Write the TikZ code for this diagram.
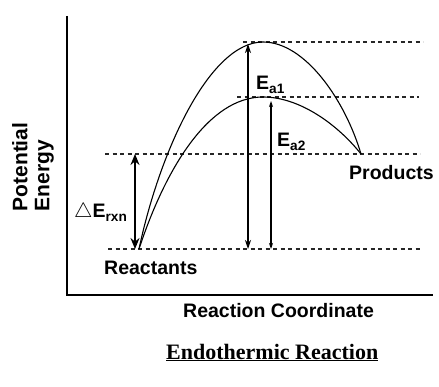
\documentclass[tikz,border=0pt]{standalone}
\usepackage{fontspec}
\setmainfont{Liberation Serif}
\setsansfont{Liberation Sans}
\usetikzlibrary{arrows.meta}

\tikzset{
  lbl/.style={font=\sffamily\bfseries\fontsize{19.5}{22}\selectfont, inner sep=0pt, anchor=base west},
  level/.style={dash pattern=on 4pt off 3.5pt, line width=1.2pt, black!85},
  curve/.style={line width=1.1pt},
  gap/.style={line width=1.1pt, {Stealth[length=9pt,width=6pt]}-{Stealth[length=9pt,width=6pt]}},
  gapthin/.style={line width=1.1pt, {Stealth[length=6pt,width=4pt]}-{Stealth[length=6pt,width=4pt]}},
  gapbig/.style={line width=1.6pt, {Stealth[length=11pt,width=9pt]}-{Stealth[length=11pt,width=9pt]}}
}

\begin{document}
\begin{tikzpicture}[x=1pt,y=-1pt]
  \useasboundingbox (0,0) rectangle (439,387);

  % axes
  \coordinate (origin) at (67,295);
  \coordinate (ytop) at (67,16);
  \coordinate (xend) at (433,295);
  \draw[line width=1.8pt] (ytop) -- (origin) -- (xend);

  % energy levels
  \coordinate (react) at (139,249);
  \coordinate (prod) at (361,154);
  \coordinate (ts1) at (263,42);
  \coordinate (ts2) at (263,97);

  \draw[level] (243,42) -- (423,42);   % peak 1
  \draw[level] (237,97) -- (419,97);   % peak 2
  \draw[level] (105,154) -- (420,154); % products
  \draw[level] (108,249) -- (422,249); % reactants

  % the two humps
  \draw[curve] (react) .. controls (160,150) and (210,42) .. (ts1)
               .. controls (305,42) and (345,100) .. (prod);
  \draw[curve] (react) .. controls (165,170) and (208,97) .. (ts2)
               .. controls (300,97) and (338,125) .. (prod);

  % gaps
  \coordinate (dEtop) at (135,154);
  \coordinate (dEbot) at (135,249);
  \coordinate (a1top) at (248,44);
  \coordinate (a1bot) at (248,249);
  \coordinate (a2top) at (271,101);
  \coordinate (a2bot) at (271,249);
  \draw[gapbig] (dEtop) -- (dEbot);
  \draw[gap] (a1top) -- (a1bot);
  \draw[gapthin] (a2top) -- (a2bot);

  % labels
  \node[lbl] (ea1) at (256,90) {E\textsubscript{a1}};
  \node[lbl] (ea2) at (277,147) {E\textsubscript{a2}};
  \node[lbl] (drxn) at (74,218) {$\triangle$E\textsubscript{rxn}};
  \node[lbl] (prodlbl) at (349,180) {Products};
  \node[lbl] (reactlbl) at (104,275) {Reactants};
  \node[lbl] (xlbl) at (183,317) {Reaction Coordinate};
  \node[lbl, rotate=90, align=left, anchor=center, font=\sffamily\bfseries\fontsize{21}{22}\selectfont] (ylbl) at (33,167) {Potential\\Energy};
  \node[inner sep=0pt, anchor=base west, font=\rmfamily\bfseries\fontsize{22}{24}\selectfont] (title) at (166,359) {\underline{Endothermic Reaction}};
\end{tikzpicture}
\end{document}
